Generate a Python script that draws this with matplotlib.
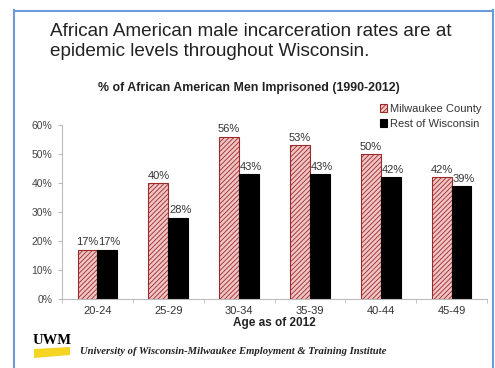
import matplotlib
matplotlib.use("Agg")
import matplotlib.pyplot as plt
import numpy as np
from matplotlib.patches import Polygon
from matplotlib.lines import Line2D

categories = ["20-24", "25-29", "30-34", "35-39", "40-44", "45-49"]
milwaukee = [17, 40, 56, 53, 50, 42]
rest_wi = [17, 28, 43, 43, 42, 39]
series_names = ["Milwaukee County", "Rest of Wisconsin"]
yticks = [0, 10, 20, 30, 40, 50, 60]

plt.rcParams['font.family'] = ['Liberation Sans', 'DejaVu Sans']
plt.rcParams['hatch.linewidth'] = 0.6

W, H = 495, 368
fig = plt.figure(figsize=(W / 100, H / 100), dpi=100)
fig.patch.set_facecolor("white")

def fx(px):
    return px / W

def fy(py):
    return 1 - py / H

# slide border
bc = "#6b9bd8"
fig.add_artist(Line2D([fx(14), fx(14)], [fy(10), 0], color=bc, lw=1.5, transform=fig.transFigure))
fig.add_artist(Line2D([fx(14), fx(493)], [fy(10.5), fy(10.5)], color=bc, lw=1.5, transform=fig.transFigure))
fig.add_artist(Line2D([fx(493), fx(493)], [fy(10), 0], color=bc, lw=1.5, transform=fig.transFigure))

# slide title
fig.text(fx(50), fy(31), "African American male incarceration rates are at",
         fontsize=13.6, color="#222222", va="center", ha="left")
fig.text(fx(50), fy(51), "epidemic levels throughout Wisconsin.",
         fontsize=13.6, color="#222222", va="center", ha="left")

# chart title
fig.text(fx(249), fy(88), "% of African American Men Imprisoned (1990-2012)",
         fontsize=8.9, fontweight="bold", color="#222222", ha="center", va="center")

ax = fig.add_axes([fx(62), fy(299), fx(487) - fx(62), fy(125) - fy(299)])
x = np.arange(len(categories))
w = 0.28
b1 = ax.bar(x - w / 2, milwaukee, w, facecolor="#f0c4c4", edgecolor="#9b2a2a",
            hatch="///////", linewidth=0.8, label=series_names[0])
b2 = ax.bar(x + w / 2, rest_wi, w, facecolor="black", edgecolor="black",
            linewidth=0.8, label=series_names[1])

for xi, v in zip(x, milwaukee):
    ax.text(xi - w / 2, v + 0.8, f"{v}%", ha="center", va="bottom", fontsize=8, color="#333333")
for xi, v in zip(x, rest_wi):
    ax.text(xi + w / 2 + 0.03, v + 0.8, f"{v}%", ha="center", va="bottom", fontsize=8, color="#333333")

ax.set_xlim(-0.5, len(categories) - 0.5)
ax.set_ylim(0, 60)
ax.set_yticks(yticks)
ax.set_yticklabels([f"{t}%" for t in yticks], fontsize=7.5, color="#444444")
ax.set_xticks(x)
ax.set_xticklabels(categories, fontsize=8, color="#333333")
ax.tick_params(axis="x", length=0, pad=5)
ax.set_xticks(np.arange(-0.5, len(categories), 1), minor=True)
ax.tick_params(axis="x", which="minor", length=3, color="#bbbbbb")
ax.tick_params(axis="y", length=3, color="#bbbbbb", pad=4)
for s in ["top", "right"]:
    ax.spines[s].set_visible(False)
for s in ["left", "bottom"]:
    ax.spines[s].set_color("#bbbbbb")
    ax.spines[s].set_linewidth(0.8)
ax.set_xlabel("Age as of 2012", fontsize=8.5, fontweight="bold", color="#222222", labelpad=1)

leg = fig.legend(handles=[b1, b2], loc="upper right", bbox_to_anchor=(fx(491), fy(94)),
                 frameon=False, fontsize=8, handlelength=0.7, handleheight=0.7,
                 handletextpad=0.2, labelspacing=0.45, labelcolor="#333333")

# UWM logo
fig.text(fx(33), fy(341), "UWM", fontsize=10.5, fontweight="bold", family="Liberation Serif",
         color="black", ha="left", va="center")
fig.add_artist(Polygon([(fx(34), fy(349)), (fx(70), fy(347)), (fx(70), fy(355)), (fx(34), fy(358))],
                       closed=True, facecolor="#f5d423", edgecolor="none", transform=fig.transFigure))

fig.text(fx(80), fy(352), "University of Wisconsin-Milwaukee Employment & Training Institute",
         fontsize=7.7, fontweight="bold", style="italic", family="Liberation Serif",
         color="#222222", ha="left", va="center")

fig.savefig("out.png", dpi=100)
